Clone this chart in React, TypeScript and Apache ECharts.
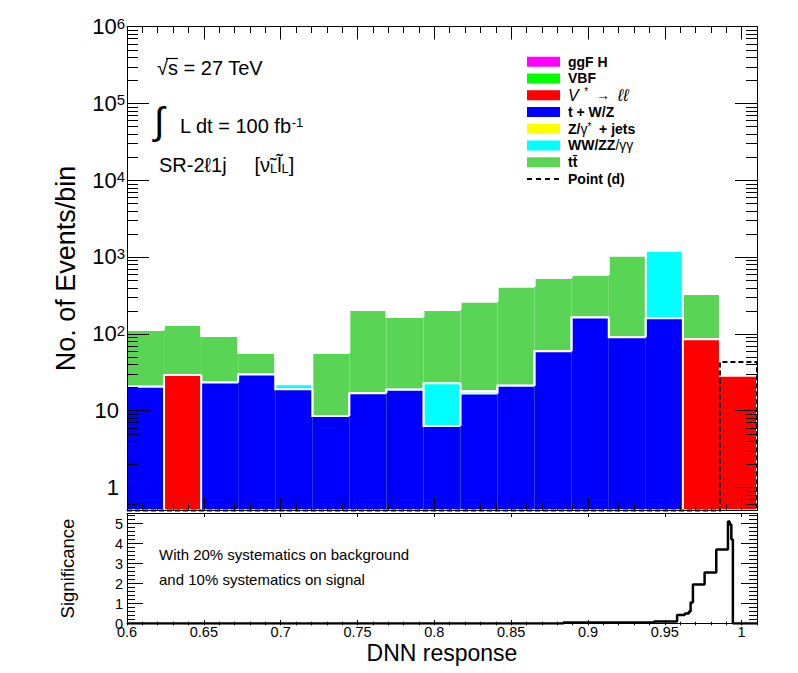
import React, { useEffect, useRef } from "react";
import * as echarts from "echarts";

const FONT = "'Liberation Sans', Arial, Helvetica, sans-serif";

// ---- axis ranges / binning ----
const X_MIN = 0.6;
const X_MAX = 1.01;
const N_BINS = 17;
const Y_MIN = 0.5;
const Y_MAX = 1e6;
const SIG_MIN = 0;
const SIG_MAX = 5.5;

// ---- backgrounds (stack order bottom -> top) ----
const processNames = ["ggF H", "VBF", "V* → ℓℓ", "t + W/Z", "Z/γ* + jets", "WW/ZZ/γγ", "tt̄"];
const processColors = ["#ff00ff", "#00ff00", "#ff0000", "#0000ff", "#ffff00", "#00ffff", "#59d454"];
const ggFH = [0, 0, 0, 0, 0, 0, 0, 0, 0, 0, 0, 0, 0, 0, 0, 0, 0];
const vbf = [0, 0, 0, 0, 0, 0, 0, 0, 0, 0, 0, 0, 0, 0, 0, 0, 0];
const vStarLL = [0, 29, 0, 0, 0, 0, 0, 0, 0, 0, 0, 0, 0, 0, 0, 85, 28.3];
const tWZ = [20.4, 0, 23.2, 29.5, 19, 8.5, 16.8, 18.6, 6.3, 16.7, 21, 59, 163, 90, 159, 0, 0];
const zJets = [0, 0, 0, 0, 0, 0, 0, 0, 0, 0, 0, 0, 0, 0, 0, 0, 0];
const diboson = [0, 0, 0, 0, 3, 0, 0, 0, 16.4, 1.3, 0, 0, 0, 0, 1038, 0, 0];
const ttbar = [91.6, 101, 70, 26.5, 0, 47.5, 187, 147, 181, 243, 389, 473, 419, 950, 0, 244, 0];
const processValues = [ggFH, vbf, vStarLL, tWZ, zJets, diboson, ttbar];

// ---- signal ----
const signalName = "Point (d)";
const signalValues = [0, 0, 0, 0, 0, 0, 0, 0, 0, 0, 0, 0, 0, 0, 0, 0, 43];

// ---- significance (step edges and values) ----
const sigEdges = [0.6, 0.884, 0.943, 0.958, 0.963, 0.9657, 0.9668, 0.9683, 0.9759, 0.9835, 0.9911, 0.9922, 0.9933, 0.9943, 1.01];
const sigValues = [0, 0.05, 0.1, 0.42, 0.5, 0.6, 1.05, 1.95, 2.55, 3.7, 5.1, 4.95, 4.2, 0];

// ---- log minor tick mantissas / decades ----
const logMantissas = [2, 3, 4, 5, 6, 7, 8, 9];
const logDecades = [-1, 0, 1, 2, 3, 4, 5];

// ---- legend labels (rich) ----
const legendRich = [
  "{b|ggF H}",
  "{b|VBF}",
  "{i|V}{sup|  *}{n|  →  }{l|ℓℓ}",
  "{b|t + W/Z}",
  "{b|Z/}{n|γ}{sup|*}{b|  + jets}",
  "{b|WW/ZZ}{n|/γγ}",
  "{b|tt\u0304}",
];

const binEdges = Array.from({ length: N_BINS + 1 }, (_, i) => X_MIN + ((X_MAX - X_MIN) * i) / N_BINS);

const cumulative = processValues.map((_, L) =>
  binEdges.slice(0, N_BINS).map((__, i) =>
    processValues.slice(0, L + 1).reduce((s, arr) => s + arr[i], 0)
  )
);

const clampY = (v: number) => Math.max(v, Y_MIN);

function layerRender(cum: number[], color: string) {
  return (params: any, api: any) => {
    const i = params.dataIndex;
    const top = clampY(cum[i]);
    const prev = i === 0 ? Y_MIN : clampY(cum[i - 1]);
    const pBase = api.coord([binEdges[i], Y_MIN]);
    const pTopR = api.coord([binEdges[i + 1], top]);
    const pTopL = api.coord([binEdges[i], top]);
    const pPrev = api.coord([binEdges[i], prev]);
    const children: any[] = [
      {
        type: "rect",
        shape: { x: pBase[0], y: pTopR[1], width: pTopR[0] - pBase[0], height: pBase[1] - pTopR[1] },
        style: { fill: color, stroke: "none" },
      },
      {
        type: "polyline",
        shape: { points: [pPrev, pTopL, pTopR] },
        style: { stroke: "#ffffff", lineWidth: 2, fill: "none" },
      },
    ];
    if (i === N_BINS - 1) {
      children.push({
        type: "line",
        shape: { x1: pTopR[0], y1: pTopR[1], x2: pTopR[0], y2: pBase[1] },
        style: { stroke: "#ffffff", lineWidth: 2 },
      });
    }
    return { type: "group", children };
  };
}

function signalRender(params: any, api: any) {
  if (params.dataIndex !== 0) return null;
  const pts: number[][] = [api.coord([binEdges[0], Y_MIN])];
  signalValues.forEach((v, i) => {
    pts.push(api.coord([binEdges[i], clampY(v)]));
    pts.push(api.coord([binEdges[i + 1], clampY(v)]));
  });
  pts.push(api.coord([binEdges[N_BINS], Y_MIN]));
  return {
    type: "polyline",
    shape: { points: pts },
    style: { stroke: "#000", lineWidth: 2, lineDash: [5, 3], fill: "none" },
  };
}

const minorTickValues: number[] = [];
logDecades.forEach((d) =>
  logMantissas.forEach((m) => {
    const v = m * Math.pow(10, d);
    if (v > Y_MIN && v < Y_MAX) minorTickValues.push(v);
  })
);

function minorTickRender(params: any, api: any) {
  const v = minorTickValues[params.dataIndex];
  const pL = api.coord([X_MIN, v]);
  const pR = api.coord([X_MAX, v]);
  const y = Math.round(pL[1]) + 0.5;
  return {
    type: "group",
    children: [
      { type: "line", shape: { x1: pL[0], y1: y, x2: pL[0] + 11, y2: y }, style: { stroke: "#000", lineWidth: 1 } },
      { type: "line", shape: { x1: pR[0] - 11, y1: y, x2: pR[0], y2: y }, style: { stroke: "#000", lineWidth: 1 } },
    ],
  };
}

function xAxisDef(gridIndex: number, position: string, interval: number, tickLen: number, extra: any = {}) {
  return {
    type: "value",
    gridIndex,
    position,
    min: X_MIN,
    max: X_MAX,
    interval,
    z: 10,
    axisLine: { show: true, onZero: false, lineStyle: { color: "#000", width: 1 } },
    axisTick: { show: true, inside: true, length: tickLen, lineStyle: { color: "#000", width: 1 } },
    axisLabel: { show: false },
    splitLine: { show: false },
    ...extra,
  };
}

function logYAxisDef(position: string, extra: any = {}) {
  return {
    type: "log",
    logBase: 10,
    gridIndex: 0,
    position,
    min: Y_MIN,
    max: Y_MAX,
    z: 10,
    axisLine: { show: true, onZero: false, lineStyle: { color: "#000", width: 1 } },
    axisTick: { show: true, inside: true, length: 22, lineStyle: { color: "#000", width: 1 } },
    axisLabel: { show: false },
    splitLine: { show: false },
    minorTick: { show: false },
    ...extra,
  };
}

function sigYAxisDef(position: string, interval: number, tickLen: number, extra: any = {}) {
  return {
    type: "value",
    gridIndex: 1,
    position,
    min: SIG_MIN,
    max: SIG_MAX,
    interval,
    z: 10,
    axisLine: { show: true, onZero: false, lineStyle: { color: "#000", width: 1 } },
    axisTick: { show: true, inside: true, length: tickLen, lineStyle: { color: "#000", width: 1 } },
    axisLabel: { show: false },
    splitLine: { show: false },
    ...extra,
  };
}

function buildOption() {
  const layerSeries = processNames
    .map((name, L) => ({
      name,
      type: "custom",
      coordinateSystem: "cartesian2d",
      xAxisIndex: 0,
      yAxisIndex: 0,
      clip: true,
      silent: true,
      z: 2,
      renderItem: layerRender(cumulative[L], processColors[L]),
      data: binEdges.slice(0, N_BINS).map((e, i) => [(e + binEdges[i + 1]) / 2, clampY(cumulative[L][i])]),
    }))
    .reverse();

  const legendGraphics: any[] = [];
  const rowY = (i: number) => 61.7 + i * 16.75;
  legendRich.forEach((txt, i) => {
    legendGraphics.push({
      type: "rect",
      shape: { x: 527, y: rowY(i) - 5, width: 33, height: 10 },
      style: { fill: processColors[i] },
    });
    legendGraphics.push({
      type: "text",
      x: 568,
      y: rowY(i),
      style: {
        text: txt,
        fill: "#000",
        align: "left",
        verticalAlign: "middle",
        fontFamily: FONT,
        fontSize: 14,
        rich: {
          b: { fontWeight: "bold", fontSize: 14, fontFamily: FONT, fill: "#000" },
          n: { fontSize: 14, fontFamily: FONT, fill: "#000" },
          i: { fontStyle: "italic", fontSize: 16, fontFamily: FONT, fill: "#000" },
          l: { fontStyle: "italic", fontSize: 17, fontFamily: FONT, fill: "#000" },
          sup: { fontSize: 10, lineHeight: 8, verticalAlign: "top", fontFamily: FONT, fill: "#000" },
        },
      },
    });
  });
  legendGraphics.push({
    type: "line",
    shape: { x1: 527, y1: rowY(7), x2: 560, y2: rowY(7) },
    style: { stroke: "#000", lineWidth: 2, lineDash: [5, 4] },
  });
  legendGraphics.push({
    type: "text",
    x: 568,
    y: rowY(7),
    style: {
      text: signalName,
      fill: "#000",
      align: "left",
      verticalAlign: "middle",
      fontFamily: FONT,
      fontSize: 14,
      fontWeight: "bold",
    },
  });

  const textGraphics: any[] = [
    {
      type: "text",
      x: 157,
      y: 68,
      style: { text: "√s = 27 TeV", fill: "#000", fontFamily: FONT, fontSize: 20, align: "left", verticalAlign: "middle" },
    },
    {
      type: "line",
      shape: { x1: 166, y1: 58.5, x2: 178, y2: 58.5 },
      style: { stroke: "#000", lineWidth: 1.2 },
    },
    {
      type: "text",
      x: 154,
      y: 121,
      style: { text: "∫", fill: "#000", fontFamily: FONT, fontSize: 38, align: "left", verticalAlign: "middle" },
    },
    {
      type: "text",
      x: 180,
      y: 126,
      style: {
        text: "L dt = 100 fb{sup|-1}",
        fill: "#000",
        fontFamily: FONT,
        fontSize: 20,
        align: "left",
        verticalAlign: "middle",
        rich: { sup: { fontSize: 13, lineHeight: 15, verticalAlign: "top", fontFamily: FONT, fill: "#000" } },
      },
    },
    {
      type: "text",
      x: 159,
      y: 165,
      style: {
        text: "SR-2ℓ1j     [ν\u0303{sub|L}l\u0303{sub|L}]",
        fill: "#000",
        fontFamily: FONT,
        fontSize: 20,
        align: "left",
        verticalAlign: "middle",
        rich: { sub: { fontSize: 13, lineHeight: 2, verticalAlign: "bottom", fontFamily: FONT, fill: "#000" } },
      },
    },
    {
      type: "text",
      x: 159,
      y: 554.7,
      style: { text: "With 20% systematics on background", fill: "#000", fontFamily: FONT, fontSize: 15, align: "left", verticalAlign: "middle" },
    },
    {
      type: "text",
      x: 159,
      y: 579.7,
      style: { text: "and 10% systematics on signal", fill: "#000", fontFamily: FONT, fontSize: 15, align: "left", verticalAlign: "middle" },
    },
  ];

  return {
    animation: false,
    backgroundColor: "#ffffff",
    textStyle: { fontFamily: FONT, color: "#000" },
    grid: [
      { left: 127, top: 26.5, width: 630, height: 484, outerBoundsMode: "none", containLabel: false },
      { left: 127, top: 513.5, width: 630, height: 110, outerBoundsMode: "none", containLabel: false },
    ],
    xAxis: [
      xAxisDef(0, "bottom", 0.05, 13),
      xAxisDef(0, "bottom", 0.01, 6.5, { axisLine: { show: false } }),
      xAxisDef(0, "top", 0.05, 13),
      xAxisDef(0, "top", 0.01, 6.5, { axisLine: { show: false } }),
      xAxisDef(1, "bottom", 0.05, 3.5, {
        axisLabel: {
          show: true,
          margin: 1,
          color: "#000",
          fontFamily: FONT,
          fontSize: 14.5,
          formatter: (v: number) => (v > 1.005 ? "" : String(+v.toFixed(2))),
        },
        name: "DNN response",
        nameLocation: "middle",
        nameGap: 18,
        nameMoveOverlap: false,
        nameTextStyle: { fontSize: 23, color: "#000", fontFamily: FONT },
      }),
      xAxisDef(1, "bottom", 0.01, 1.8, { axisLine: { show: false } }),
      xAxisDef(1, "top", 0.05, 3.5),
      xAxisDef(1, "top", 0.01, 1.8, { axisLine: { show: false } }),
    ],
    yAxis: [
      logYAxisDef("left", {
        axisLabel: {
          show: true,
          margin: 2,
          color: "#000",
          fontFamily: FONT,
          fontSize: 22,
          formatter: (v: number) => {
            if (v < 0.9) return "";
            const e = Math.round(Math.log10(v));
            if (e === 0) return "{p|1}";
            if (e === 1) return "{p|10}";
            return "{b|10}{s|" + e + "}";
          },
          rich: {
            b: { fontSize: 22, color: "#000", fontFamily: FONT },
            s: { fontSize: 15, lineHeight: 14, verticalAlign: "top", color: "#000", fontFamily: FONT },
            p: { fontSize: 22, color: "#000", fontFamily: FONT, padding: [0, 6, 0, 0] },
          },
        },
        name: "No. of Events/bin",
        nameLocation: "middle",
        nameGap: 48,
        nameMoveOverlap: false,
        nameTextStyle: { fontSize: 27, color: "#000", fontFamily: FONT },
      }),
      logYAxisDef("right"),
      sigYAxisDef("left", 1, 16, {
        axisLabel: {
          show: true,
          margin: 4,
          color: "#000",
          fontFamily: FONT,
          fontSize: 14.5,
          formatter: (v: number) => (v > 5.2 ? "" : String(Math.round(v))),
        },
        name: "Significance",
        nameLocation: "middle",
        nameGap: 50,
        nameMoveOverlap: false,
        nameTextStyle: { fontSize: 18.5, color: "#000", fontFamily: FONT },
      }),
      sigYAxisDef("left", 0.2, 8, { axisLine: { show: false } }),
      sigYAxisDef("right", 1, 16),
      sigYAxisDef("right", 0.2, 8, { axisLine: { show: false } }),
    ],
    series: [
      ...layerSeries,
      {
        name: signalName,
        type: "custom",
        coordinateSystem: "cartesian2d",
        xAxisIndex: 0,
        yAxisIndex: 0,
        clip: false,
        silent: true,
        z: 3,
        renderItem: signalRender,
        data: signalValues.map((v, i) => [(binEdges[i] + binEdges[i + 1]) / 2, clampY(v)]),
      },
      {
        name: "minor log ticks",
        type: "custom",
        coordinateSystem: "cartesian2d",
        xAxisIndex: 0,
        yAxisIndex: 0,
        clip: false,
        silent: true,
        z: 12,
        renderItem: minorTickRender,
        data: minorTickValues.map((v) => [X_MIN, v]),
      },
      {
        name: "Significance",
        type: "line",
        xAxisIndex: 4,
        yAxisIndex: 2,
        step: "end",
        symbol: "none",
        silent: true,
        clip: true,
        z: 3,
        lineStyle: { color: "#000", width: 2.5 },
        data: sigEdges.map((e, i) => [e, sigValues[Math.min(i, sigValues.length - 1)]]),
      },
    ],
    graphic: [...legendGraphics, ...textGraphics],
  };
}

export default function App() {
  const ref = useRef<HTMLDivElement>(null);
  useEffect(() => {
    if (!ref.current) return;
    const chart = echarts.init(ref.current, null, { renderer: "svg", width: 798, height: 673 });
    chart.setOption(buildOption() as any);
    return () => chart.dispose();
  }, []);
  return (
    <div
      ref={ref}
      style={{ position: "fixed", left: 0, top: 0, width: 798, height: 673, background: "#fff" }}
    />
  );
}
